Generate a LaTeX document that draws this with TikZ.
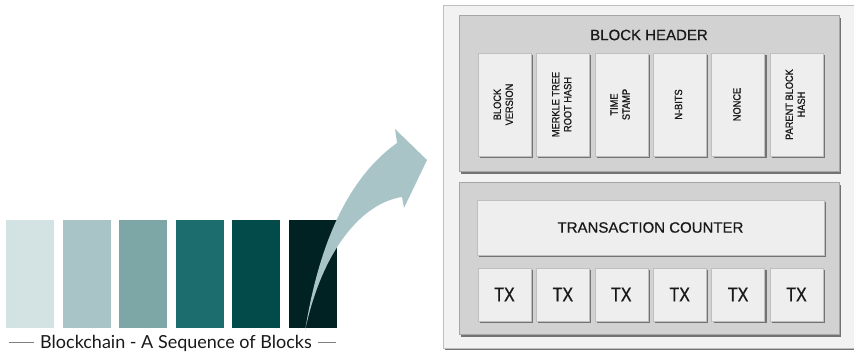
\documentclass[tikz,border=0pt]{standalone}
\usepackage{fontspec}
\setmainfont{Lato}
\newfontfamily\lcdfont[FakeStretch=0.88, FakeBold=1]{Liberation Sans}
\newfontfamily\lcdnarrow[FakeStretch=0.8, FakeBold=0.8]{Liberation Sans}
\newfontfamily\lcdwide[FakeBold=0.6]{Liberation Sans}
\usetikzlibrary{shadows}

\definecolor{blkA}{HTML}{D3E2E3}
\definecolor{blkB}{HTML}{A9C4C6}
\definecolor{blkC}{HTML}{7DA6A6}
\definecolor{blkD}{HTML}{1C6E6E}
\definecolor{blkE}{HTML}{034A4A}
\definecolor{blkF}{HTML}{012222}
\definecolor{panelgray}{HTML}{F2F2F2}
\definecolor{secgray}{HTML}{D2D2D2}
\definecolor{boxgray}{HTML}{EEEEEE}

\tikzset{
  chainblock/.style={minimum width=48pt, minimum height=108pt, inner sep=0pt},
  shade box/.style={drop shadow={shadow xshift=2pt, shadow yshift=-2pt, fill=black!55, opacity=1}},
  panel/.style={fill=panelgray, draw=black!25, shade box, minimum width=411pt, minimum height=343pt, inner sep=0pt},
  section/.style={fill=secgray, draw=black!35, line width=1pt, shade box, minimum width=380pt, inner sep=0pt},
  field/.style={fill=boxgray, draw=black!25, shade box, minimum width=53pt, minimum height=103pt, inner sep=0pt,
    font=\lcdfont\fontsize{10.5}{12}\selectfont, text=black!90},
  txbox/.style={fill=boxgray, draw=black!25, shade box, minimum width=53pt, minimum height=53pt, inner sep=0pt,
    font=\lcdnarrow\fontsize{20}{22}\selectfont, text=black!90},
  title/.style={font=\lcdwide\fontsize{15}{16}\selectfont, text=black!90}
}

\begin{document}
\begin{tikzpicture}[x=1pt, y=-1pt]
\useasboundingbox (0,0) rectangle (854,352);

\foreach \c [count=\i] in {blkA,blkB,blkC,blkD,blkE,blkF}
  \node[chainblock, fill=\c] (b\i) at ({30+56.6*(\i-1)},274) {};
\node[font=\fontsize{18}{20}\selectfont, text=black!90] (cap) at (176,343) {Blockchain - A Sequence of Blocks};
\draw[black!50, line width=1pt] ([xshift=-3pt]cap.west) -- ++(-25,0);
\draw[black!50, line width=1pt] ([xshift=3pt]cap.east) -- ++(18,0);

\fill[blkB] (305,331) .. controls (318,250) and (345,180) .. (397,143) -- (395,129) -- (427,160)
  -- (404,208) -- (402,197) .. controls (362,203) and (322,250) .. (305,331) -- cycle;

\node[panel] (pan) at (648.5,176.5) {};
\node[section, minimum height=156pt] (hdr) at (649,94) {};
\node[section, minimum height=152pt] (body) at (649,259) {};
\node[title] (hdrtitle) at (649,35) {BLOCK HEADER};

\foreach \t [count=\i] in {{BLOCK\\VERSION},{MERKLE TREE\\ROOT HASH},{TIME\\STAMP},{N-BITS},{NONCE},{PARENT BLOCK\\HASH}}
  \node[field] (f\i) at ({504.5+58.4*(\i-1)},104.5) {\rotatebox{90}{\begin{tabular}{@{}c@{}}\t\end{tabular}}};

\node[field, minimum width=347pt, minimum height=55pt, font=\lcdwide\fontsize{15}{16}\selectfont] (cnt) at (650.5,227.5) {TRANSACTION COUNTER};
\foreach \i in {1,...,6}
  \node[txbox] (tx\i) at ({504.5+58.4*(\i-1)},294.5) {TX};
\end{tikzpicture}
\end{document}
